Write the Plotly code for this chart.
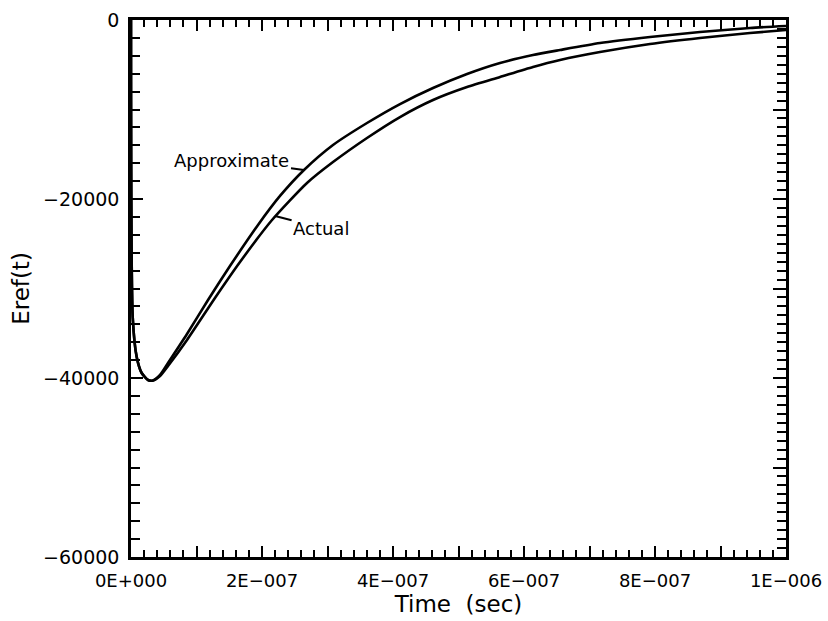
import plotly.graph_objects as go

# Time (s) and Eref(t) values
t_approx = [0, 2.6e-9, 8.7e-9, 1.63e-8, 2.60e-8, 3.36e-8, 4.43e-8, 5.65e-8, 8.55e-8,
            1.176e-7, 1.511e-7, 1.939e-7, 2.275e-7, 2.641e-7, 3.084e-7, 3.603e-7, 4.107e-7,
            4.611e-7, 5.130e-7, 5.634e-7, 6.137e-7, 6.550e-7, 7.160e-7, 7.924e-7, 8.687e-7,
            9.450e-7, 1.0e-6]
e_approx = [0, -33180, -37650, -39440, -40220, -40280, -39660, -38320, -35080,
            -31280, -27490, -22900, -19660, -16760, -13970, -11510, -9390,
            -7600, -6030, -4800, -3910, -3350, -2570, -1900, -1340,
            -890, -670]

t_actual = [0, 2.6e-9, 8.7e-9, 1.63e-8, 2.60e-8, 3.36e-8, 4.43e-8, 5.65e-8, 8.55e-8,
            1.282e-7, 1.664e-7, 2.153e-7, 2.687e-7, 3.084e-7, 3.603e-7, 4.107e-7,
            4.611e-7, 5.130e-7, 5.634e-7, 6.137e-7, 6.550e-7, 7.160e-7, 7.924e-7, 8.687e-7,
            9.450e-7, 1.0e-6]
e_actual = [0, -33180, -37650, -39440, -40220, -40280, -39780, -38660, -35750,
            -31060, -27040, -22350, -18210, -15870, -13180, -10840,
            -8940, -7490, -6370, -5250, -4470, -3580, -2680, -2010,
            -1450, -1120]

x_tickvals = [0, 1e-7, 2e-7, 3e-7, 4e-7, 5e-7, 6e-7, 7e-7, 8e-7, 9e-7, 1e-6]
x_ticktext = ["0E+000", "", "2E\u2212007", "", "4E\u2212007", "", "6E\u2212007", "",
              "8E\u2212007", "", "1E\u2212006"]
y_tickvals = [0, -20000, -40000, -60000]
y_ticktext = ["0", "\u221220000", "\u221240000", "\u221260000"]

label_approx = "Approximate"
label_actual = "Actual"

FONT = "DejaVu Sans"

fig = go.Figure()
fig.add_trace(go.Scatter(x=t_approx, y=e_approx, mode="lines",
                         line=dict(color="black", width=2.6, shape="spline", smoothing=0.6),
                         showlegend=False, hoverinfo="skip"))
fig.add_trace(go.Scatter(x=t_actual, y=e_actual, mode="lines",
                         line=dict(color="black", width=2.6, shape="spline", smoothing=0.6),
                         showlegend=False, hoverinfo="skip"))
# helper trace so the right-hand axis (denser ticks) is rendered
fig.add_trace(go.Scatter(x=t_actual, y=e_actual, mode="lines", yaxis="y2", opacity=0,
                         line=dict(color="rgba(0,0,0,0)"), showlegend=False, hoverinfo="skip"))

fig.add_annotation(x=2.641e-7, y=-16760, text=label_approx, showarrow=True, arrowhead=0,
                   arrowwidth=2, arrowcolor="black", ax=-72, ay=-10, standoff=0,
                   font=dict(family=FONT, size=18, color="black"))
fig.add_annotation(x=2.2e-7, y=-21900, text=label_actual, showarrow=True, arrowhead=0,
                   arrowwidth=2, arrowcolor="black", ax=46, ay=12, standoff=0,
                   font=dict(family=FONT, size=18, color="black"))

fig.update_layout(
    width=828, height=621,
    margin=dict(l=131, r=42, t=20, b=64),
    paper_bgcolor="white", plot_bgcolor="white",
    font=dict(family=FONT, size=19, color="black"),
    xaxis=dict(range=[0, 1e-6], showline=True, linecolor="black", linewidth=2.5, mirror="ticks",
               ticks="inside", ticklen=11, tickwidth=2, tickcolor="black", automargin=False,
               tickvals=x_tickvals, ticktext=x_ticktext, showgrid=False, zeroline=False,
               ticklabelstandoff=6,
               minor=dict(ticks="inside", ticklen=7, tickwidth=1.5, tickcolor="black", dtick=2e-8, showgrid=False),
               title=dict(text="Time  (sec)", font=dict(size=23), standoff=2),
               tickfont=dict(size=18)),
    yaxis=dict(range=[-60000, 0], showline=True, linecolor="black", linewidth=2.5, mirror=False,
               ticks="inside", ticklen=12, tickwidth=2, tickcolor="black", automargin=False,
               tickvals=y_tickvals, ticktext=y_ticktext, showgrid=False, zeroline=False,
               ticklabelstandoff=5,
               minor=dict(ticks="inside", ticklen=9, tickwidth=2, tickcolor="black", dtick=2000, showgrid=False),
               title=dict(text="Eref(t)", font=dict(size=23), standoff=8),
               tickfont=dict(size=19)),
    yaxis2=dict(range=[-60000, 0], overlaying="y", side="right", showline=True, linecolor="black",
                linewidth=2.5, ticks="inside", ticklen=13, tickwidth=2, tickcolor="black", dtick=10000,
                tick0=0,
                minor=dict(ticks="inside", ticklen=9, tickwidth=2, tickcolor="black", dtick=1000, showgrid=False),
                showticklabels=False, showgrid=False, zeroline=False, automargin=False),
)

fig.write_html("out.html", config={"displayModeBar": False},
               post_script="document.body.style.margin='0';document.body.style.overflow='hidden';")
